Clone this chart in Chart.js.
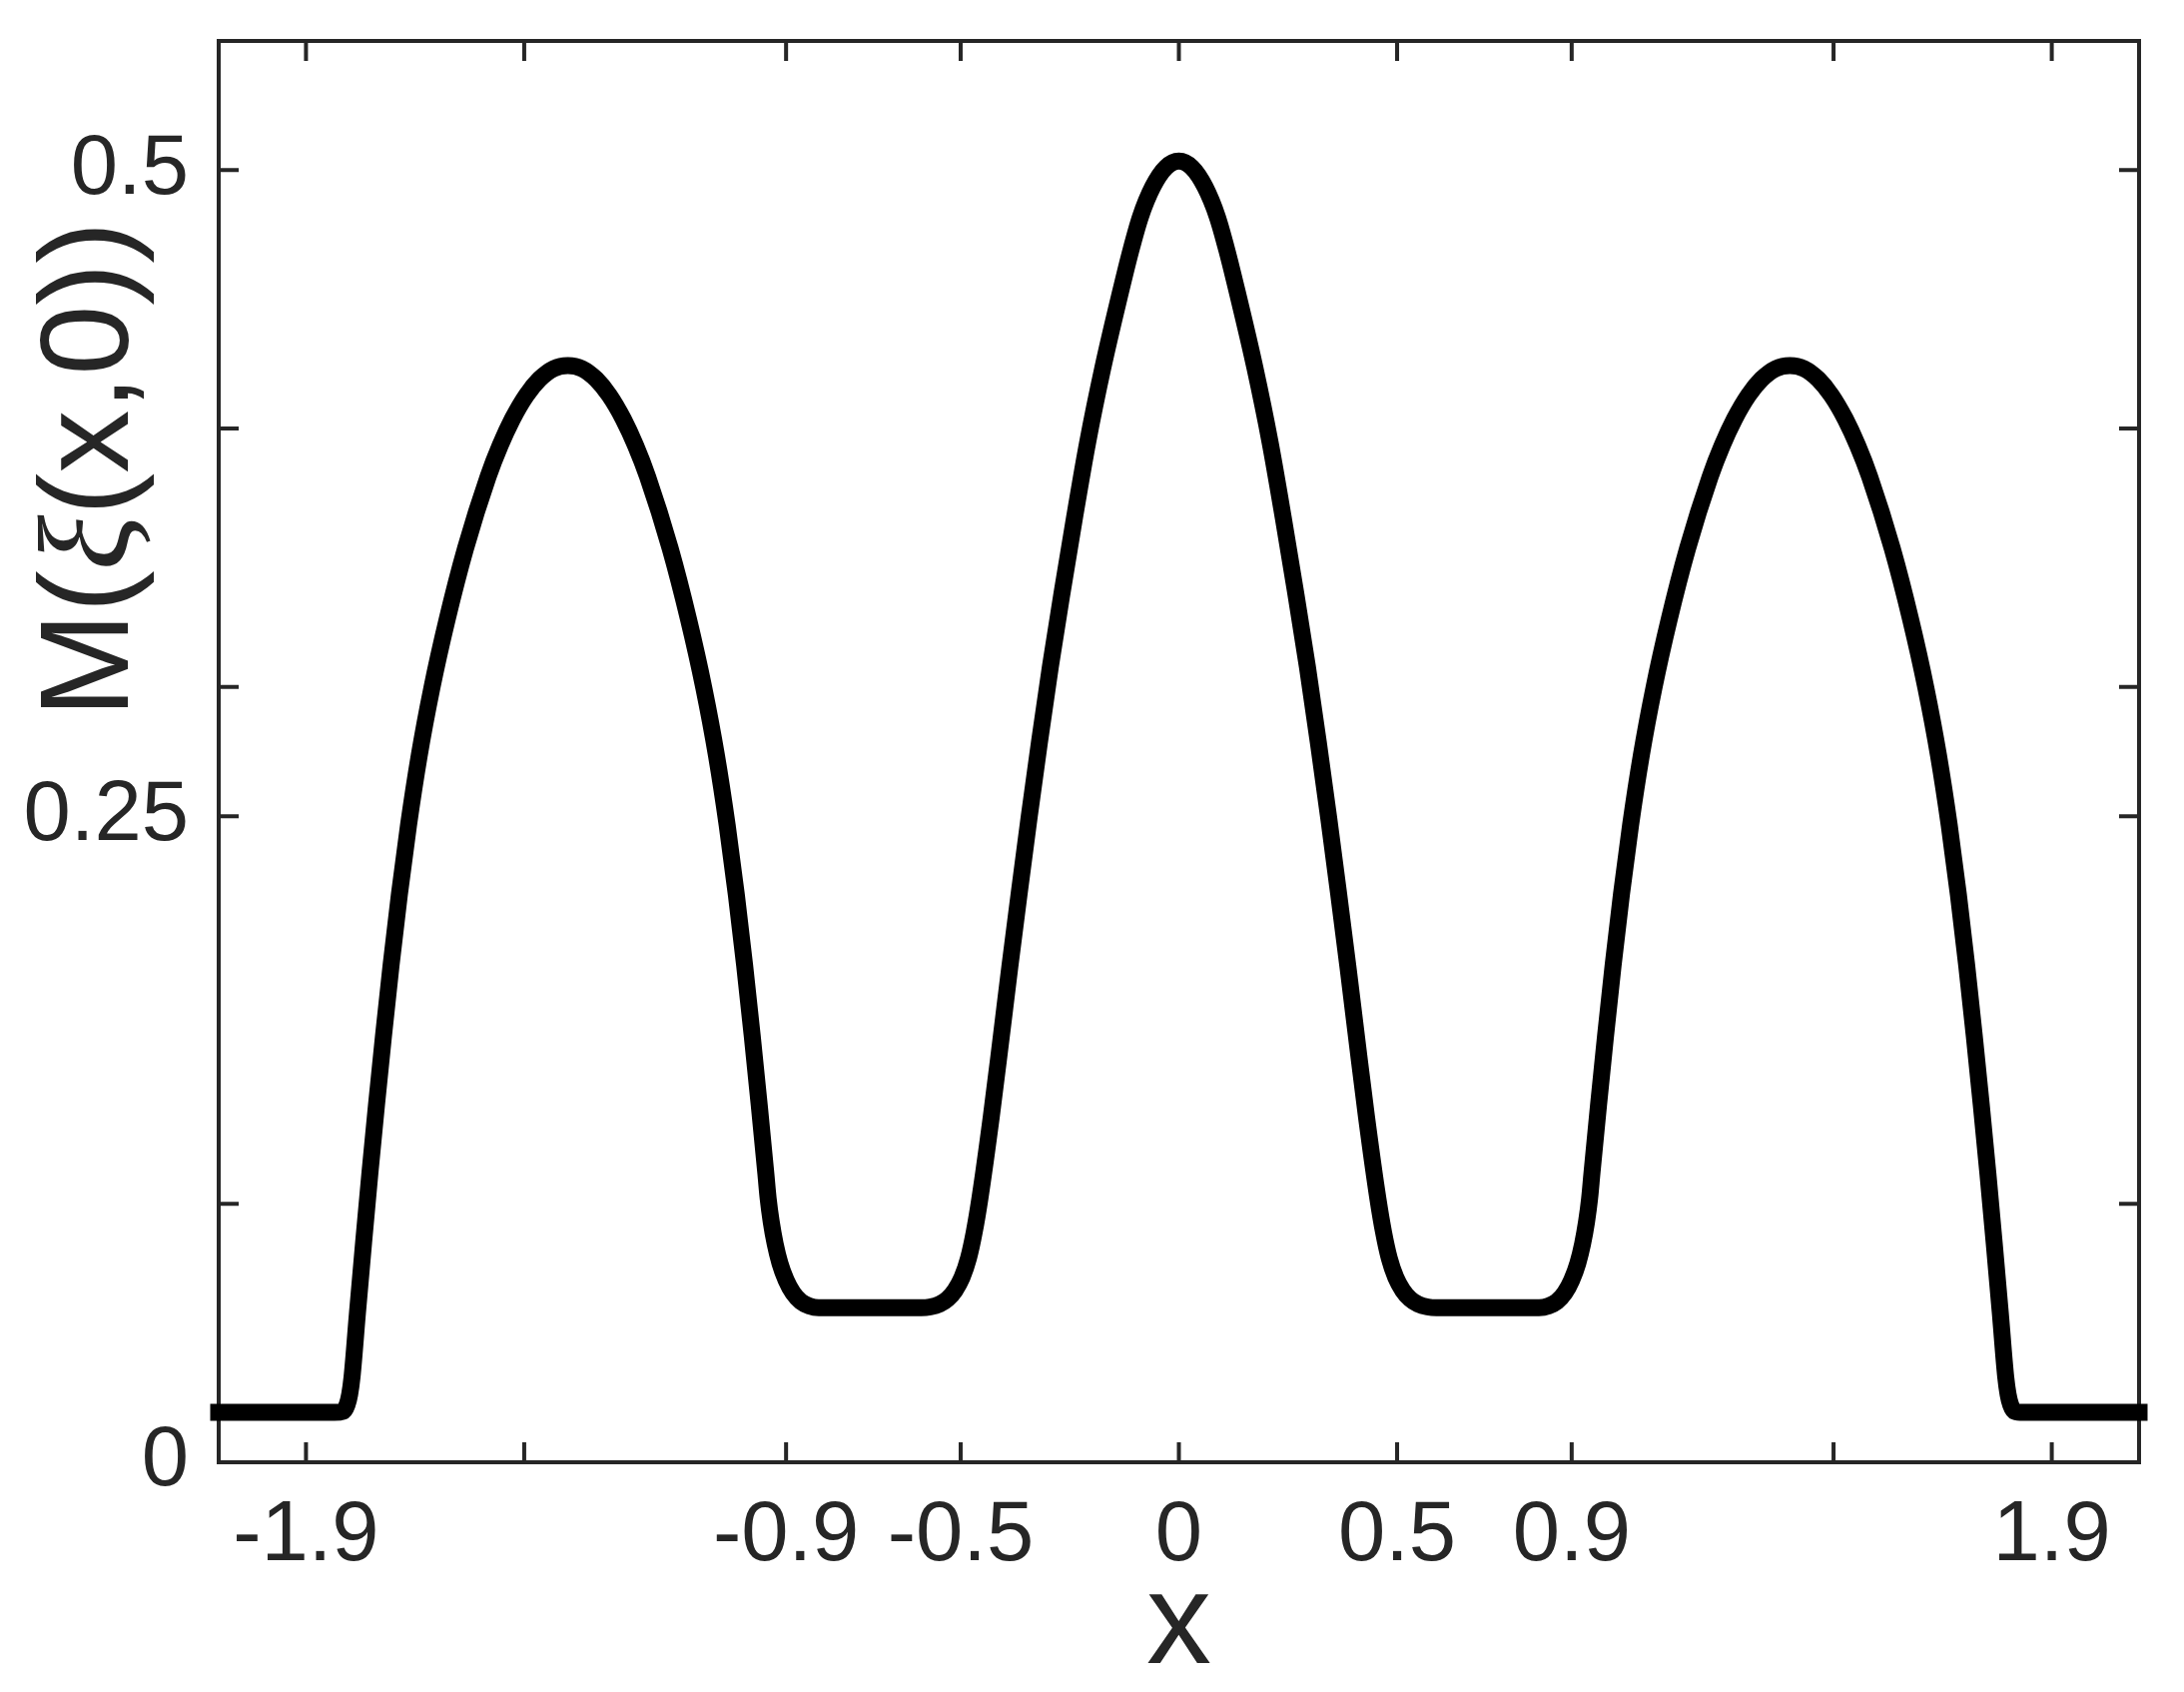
<!DOCTYPE html>
<html>
<head>
<meta charset="utf-8">
<script src="https://cdn.jsdelivr.net/npm/chart.js@4.4.1/dist/chart.umd.min.js"></script>
<style>
  html, body { margin: 0; padding: 0; background: #fff; }
  #wrap { width: 2187px; height: 1694px; }
</style>
</head>
<body>
<div id="wrap"><canvas id="chart" width="2187" height="1694"></canvas></div>
<script>
// values
const xValues = [
  -2.2, -2.05, -1.935, -1.915, -1.906, -1.9, -1.8945, -1.882, -1.868, -1.8535,
  -1.8385, -1.8225, -1.805, -1.786, -1.765, -1.7405, -1.7115, -1.6765, -1.6345, -1.5825,
  -1.555, -1.527, -1.495, -1.465, -1.4325, -1.4, -1.3675, -1.335, -1.305, -1.273,
  -1.245, -1.2175, -1.1655, -1.1235, -1.0885, -1.0595, -1.035, -1.014, -0.995, -0.9775,
  -0.9615, -0.9465, -0.941, -0.934, -0.925, -0.914, -0.9, -0.884, -0.866, -0.847,
  -0.825, -0.7, -0.59, -0.57, -0.548, -0.53, -0.513, -0.497, -0.482, -0.469,
  -0.456, -0.43, -0.4085, -0.3875, -0.3655, -0.343, -0.3195, -0.2945, -0.2675, -0.239,
  -0.209, -0.174, -0.134, -0.11, -0.088, -0.06, -0.03, 0,
  0.03, 0.06, 0.088, 0.11, 0.134, 0.174, 0.209,
  0.239, 0.2675, 0.2945, 0.3195, 0.343, 0.3655, 0.3875, 0.4085, 0.43, 0.456,
  0.469, 0.482, 0.497, 0.513, 0.53, 0.548, 0.57, 0.59, 0.7, 0.825,
  0.847, 0.866, 0.884, 0.9, 0.914, 0.925, 0.934, 0.941, 0.9465, 0.9615,
  0.9775, 0.995, 1.014, 1.035, 1.0595, 1.0885, 1.1235, 1.1655, 1.2175, 1.245,
  1.273, 1.305, 1.335, 1.3675, 1.4, 1.4325, 1.465, 1.495, 1.527, 1.555,
  1.5825, 1.6345, 1.6765, 1.7115, 1.7405, 1.765, 1.786, 1.805, 1.8225, 1.8385,
  1.8535, 1.868, 1.882, 1.8945, 1.9, 1.906, 1.915, 1.935, 2.05, 2.2
];
const mValues = [
  0.0193, 0.0193, 0.0193, 0.0197, 0.0222, 0.0262, 0.033, 0.058, 0.085, 0.112,
  0.1382, 0.1649, 0.1924, 0.2197, 0.2466, 0.2735, 0.2997, 0.3262, 0.3536, 0.3815,
  0.3935, 0.4037, 0.4129, 0.4191, 0.4232, 0.4244, 0.4232, 0.4191, 0.4129, 0.4037,
  0.3935, 0.3815, 0.3536, 0.3262, 0.2997, 0.2735, 0.2466, 0.2197, 0.1924, 0.1649,
  0.1382, 0.112, 0.102, 0.093, 0.0845, 0.077, 0.0705, 0.0655, 0.0622, 0.0605,
  0.0598, 0.0598, 0.0598, 0.0601, 0.0612, 0.0632, 0.0665, 0.0715, 0.079, 0.089,
  0.102, 0.1335, 0.1625, 0.1915, 0.2207, 0.2497, 0.2786, 0.3078, 0.3366, 0.3657,
  0.3947, 0.4237, 0.4527, 0.469, 0.482, 0.4935, 0.501, 0.5035,
  0.501, 0.4935, 0.482, 0.469, 0.4527, 0.4237, 0.3947,
  0.3657, 0.3366, 0.3078, 0.2786, 0.2497, 0.2207, 0.1915, 0.1625, 0.1335, 0.102,
  0.089, 0.079, 0.0715, 0.0665, 0.0632, 0.0612, 0.0601, 0.0598, 0.0598, 0.0598,
  0.0605, 0.0622, 0.0655, 0.0705, 0.077, 0.0845, 0.093, 0.102, 0.112, 0.1382,
  0.1649, 0.1924, 0.2197, 0.2466, 0.2735, 0.2997, 0.3262, 0.3536, 0.3815, 0.3935,
  0.4037, 0.4129, 0.4191, 0.4232, 0.4244, 0.4232, 0.4191, 0.4129, 0.4037, 0.3935,
  0.3815, 0.3536, 0.3262, 0.2997, 0.2735, 0.2466, 0.2197, 0.1924, 0.1649, 0.1382,
  0.112, 0.085, 0.058, 0.033, 0.0262, 0.0222, 0.0197, 0.0193, 0.0193, 0.0193
];

// tick positions and the labels printed at them
const xTickValues = [-2, -1.5, -0.9, -0.5, 0, 0.5, 0.9, 1.5, 2];
const xTickLabels = ["-1.9", "", "-0.9", "-0.5", "0", "0.5", "0.9", "", "1.9"];
const yTickValues = [0, 0.1, 0.25, 0.3, 0.4, 0.5];
const yTickLabels = ["0", "", "0.25", "", "", "0.5"];

const xTitle = "x";
const yTitleParts = ["M(", "ξ", "(x,0))"];

const axisColor = "#262626";
const fontFamily = "'Liberation Sans', Arial, Helvetica, sans-serif";

const points = xValues.map((x, i) => ({ x: x, y: mValues[i] }));

// box around the plot with inward ticks on all four sides
const boxPlugin = {
  id: "box",
  beforeDatasetsDraw(chart) {
    const { ctx, chartArea: a, scales } = chart;
    const len = 20;
    ctx.save();
    ctx.strokeStyle = axisColor;
    ctx.lineWidth = 4;
    ctx.lineCap = "butt";
    ctx.beginPath();
    xTickValues.forEach((v) => {
      const px = scales.x.getPixelForValue(v);
      ctx.moveTo(px, a.bottom);
      ctx.lineTo(px, a.bottom - len);
      ctx.moveTo(px, a.top);
      ctx.lineTo(px, a.top + len);
    });
    yTickValues.forEach((v) => {
      const py = scales.y.getPixelForValue(v);
      ctx.moveTo(a.left, py);
      ctx.lineTo(a.left + len, py);
      ctx.moveTo(a.right, py);
      ctx.lineTo(a.right - len, py);
    });
    ctx.stroke();
    ctx.strokeRect(a.left, a.top, a.right - a.left, a.bottom - a.top);
    ctx.restore();
  },
  afterDraw(chart) {
    // y title sits above the axis centre in the original, so place it by hand
    const { ctx } = chart;
    const fonts = [
      "126px " + fontFamily,
      "italic 130px 'Liberation Serif', 'DejaVu Serif', serif",
      "126px " + fontFamily,
    ];
    ctx.save();
    ctx.fillStyle = axisColor;
    ctx.translate(128, 470);
    ctx.rotate(-Math.PI / 2);
    ctx.textAlign = "left";
    ctx.textBaseline = "alphabetic";
    const widths = yTitleParts.map((t, i) => {
      ctx.font = fonts[i];
      return ctx.measureText(t).width;
    });
    let pos = -widths.reduce((s, w) => s + w, 0) / 2;
    yTitleParts.forEach((t, i) => {
      ctx.font = fonts[i];
      ctx.fillText(t, pos, 0);
      pos += widths[i];
    });
    ctx.restore();
  },
};

new Chart(document.getElementById("chart"), {
  type: "line",
  data: {
    datasets: [
      {
        data: points,
        borderColor: "#000000",
        borderWidth: 17,
        pointRadius: 0,
        fill: false,
        cubicInterpolationMode: "monotone",
        borderCapStyle: "square",
        borderJoinStyle: "round",
        clip: false,
      },
    ],
  },
  options: {
    responsive: false,
    animation: false,
    devicePixelRatio: 1,
    layout: { padding: { left: 0, top: 41, right: 45, bottom: 0 } },
    plugins: { legend: { display: false }, tooltip: { enabled: false } },
    scales: {
      x: {
        type: "linear",
        min: -2.2,
        max: 2.2,
        grid: { display: false, drawTicks: false },
        border: { display: false },
        afterBuildTicks: (scale) => {
          scale.ticks = xTickValues.map((v) => ({ value: v }));
        },
        afterFit: (scale) => {
          scale.height = 230;
          scale.paddingLeft = 0;
          scale.paddingRight = 0;
        },
        ticks: {
          autoSkip: false,
          maxRotation: 0,
          padding: 24,
          color: axisColor,
          font: { family: fontFamily, size: 85 },
          callback: (value, index) => xTickLabels[index],
        },
        title: {
          display: true,
          text: xTitle,
          color: axisColor,
          font: { family: fontFamily, size: 130, lineHeight: 1 },
          padding: { top: 0, bottom: 0 },
        },
      },
      y: {
        type: "linear",
        min: 0,
        max: 0.55,
        grid: { display: false, drawTicks: false },
        border: { display: false },
        afterBuildTicks: (scale) => {
          scale.ticks = yTickValues.map((v) => ({ value: v }));
        },
        afterFit: (scale) => {
          scale.width = 219;
          scale.paddingTop = 0;
          scale.paddingBottom = 0;
        },
        ticks: {
          autoSkip: false,
          padding: 30,
          color: axisColor,
          font: { family: fontFamily, size: 85 },
          callback: (value, index) => yTickLabels[index],
        },
      },
    },
  },
  plugins: [boxPlugin],
});
</script>
</body>
</html>
